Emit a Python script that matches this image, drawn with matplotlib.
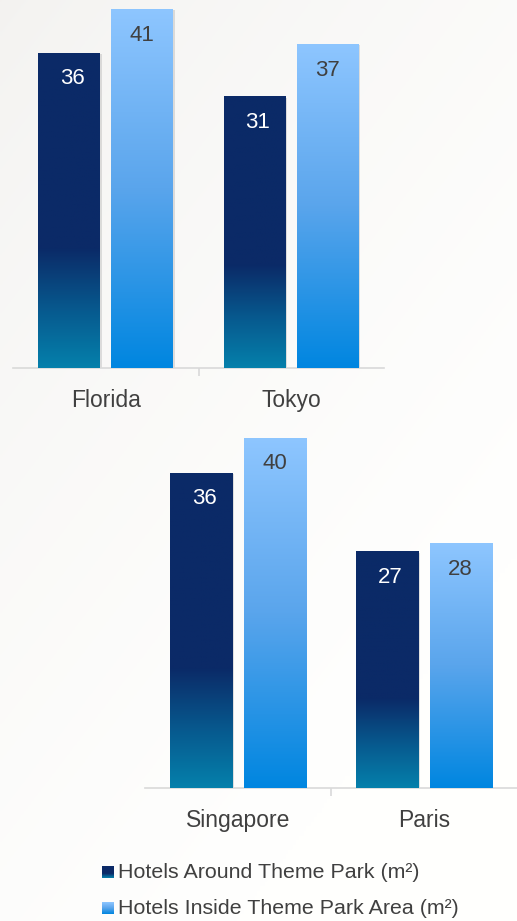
import numpy as np
import matplotlib
matplotlib.use("Agg")
import matplotlib.pyplot as plt
from matplotlib.colors import LinearSegmentedColormap
from matplotlib import patheffects as pe

plt.rcParams['font.family'] = ['Liberation Sans', 'DejaVu Sans']

# data
top_cities = ["Florida", "Tokyo"]
top_around = [36, 31]
top_inside = [41, 37]
bottom_cities = ["Singapore", "Paris"]
bottom_around = [36, 27]
bottom_inside = [40, 28]
series_names = ["Hotels Around Theme Park (m²)", "Hotels Inside Theme Park Area (m²)"]

W, H = 517, 921
fig = plt.figure(figsize=(W / 100, H / 100), dpi=100)

# soft grey-to-white background
bg = fig.add_axes([0, 0, 1, 1])
bg.set_axis_off()
xx, yy = np.meshgrid(np.linspace(0, 1, 200), np.linspace(0, 1, 200))
t = np.clip(0.55 * xx + 0.75 * yy, 0, 1)  # yy=0 at top (origin upper)
g0 = np.array([0.953, 0.949, 0.941])
g1 = np.array([1.0, 1.0, 0.996])
img = g0 + (g1 - g0) * t[..., None] ** 0.7
bg.imshow(img, extent=[0, 1, 0, 1], aspect='auto', origin='upper')
bg.set_xlim(0, 1)
bg.set_ylim(0, 1)

dark_cmap = LinearSegmentedColormap.from_list(
    "dark", [(0, "#0580ab"), (0.18, "#075a8f"), (0.38, "#0b2a67"), (1, "#0b2a67")])
light_cmap = LinearSegmentedColormap.from_list(
    "light", [(0, "#0086e0"), (0.5, "#5aa5ec"), (1, "#8ec6ff")])

BAR_W = 0.334
OFF = 0.197
YMAX = 42.0


def grad_bars(ax, xs, vals, cmap):
    bars = ax.bar(xs, vals, BAR_W, color="#777777", zorder=2,
                  path_effects=[pe.SimplePatchShadow(offset=(1, -1), shadow_rgbFace="#888888", alpha=0.25),
                                pe.Normal()])
    grad = np.linspace(0, 1, 256)[:, None]
    for b in bars:
        x0, w, h = b.get_x(), b.get_width(), b.get_height()
        im = ax.imshow(grad, extent=[x0, x0 + w, 0, h], origin='lower', cmap=cmap,
                       aspect='auto', zorder=3)
        im.set_clip_path(b)
    return bars


def panel(rect, cities, around, inside):
    ax = fig.add_axes(rect)
    ax.patch.set_alpha(0)
    x = np.arange(len(cities))
    b1 = grad_bars(ax, x - OFF, around, dark_cmap)
    b2 = grad_bars(ax, x + OFF, inside, light_cmap)
    for b, v in zip(b1, around):
        ax.annotate(str(v), (b.get_x() + b.get_width() / 2 + 0.015, v), xytext=(0, -19),
                    textcoords='offset points', ha='center', va='center',
                    fontsize=16, color='white', zorder=5)
    for b, v in zip(b2, inside):
        ax.annotate(str(v), (b.get_x() + b.get_width() / 2, v), xytext=(0, -19),
                    textcoords='offset points', ha='center', va='center',
                    fontsize=16, color='#404040', zorder=5)
    ax.set_xlim(-0.5, len(cities) - 0.5)
    ax.set_ylim(0, YMAX)
    for s in ['top', 'right', 'left']:
        ax.spines[s].set_visible(False)
    ax.spines['bottom'].set_color('#d9d9d9')
    ax.spines['bottom'].set_linewidth(1.2)
    ax.set_yticks([])
    ax.set_xticks(x)
    ax.set_xticklabels(cities, fontsize=16.5, color='#404040')
    ax.tick_params(axis='x', which='major', length=0, pad=15)
    ax.set_xticks(x[:-1] + 0.5, minor=True)
    ax.tick_params(axis='x', which='minor', length=6, color='#d9d9d9', width=1.2)
    return ax


panel([13 / W, 1 - 368 / H, 371 / W, 368 / H], top_cities, top_around, top_inside)
panel([145 / W, 1 - 788 / H, 372 / W, 368 / H], bottom_cities, bottom_around, bottom_inside)

# legend with gradient squares
for i, (name, cmap) in enumerate(zip(series_names, [dark_cmap, light_cmap])):
    yc = 872 + i * 36
    sq = fig.add_axes([102 / W, 1 - (yc + 6) / H, 12 / W, 12 / H])
    sq.set_axis_off()
    sq.imshow(np.linspace(0, 1, 64)[:, None], cmap=cmap, origin='lower', aspect='auto',
              extent=[0, 1, 0, 1])
    fig.text(118 / W, 1 - yc / H, name, fontsize=15.4, color='#404040', va='center', ha='left')

fig.savefig("out.png", dpi=100)
